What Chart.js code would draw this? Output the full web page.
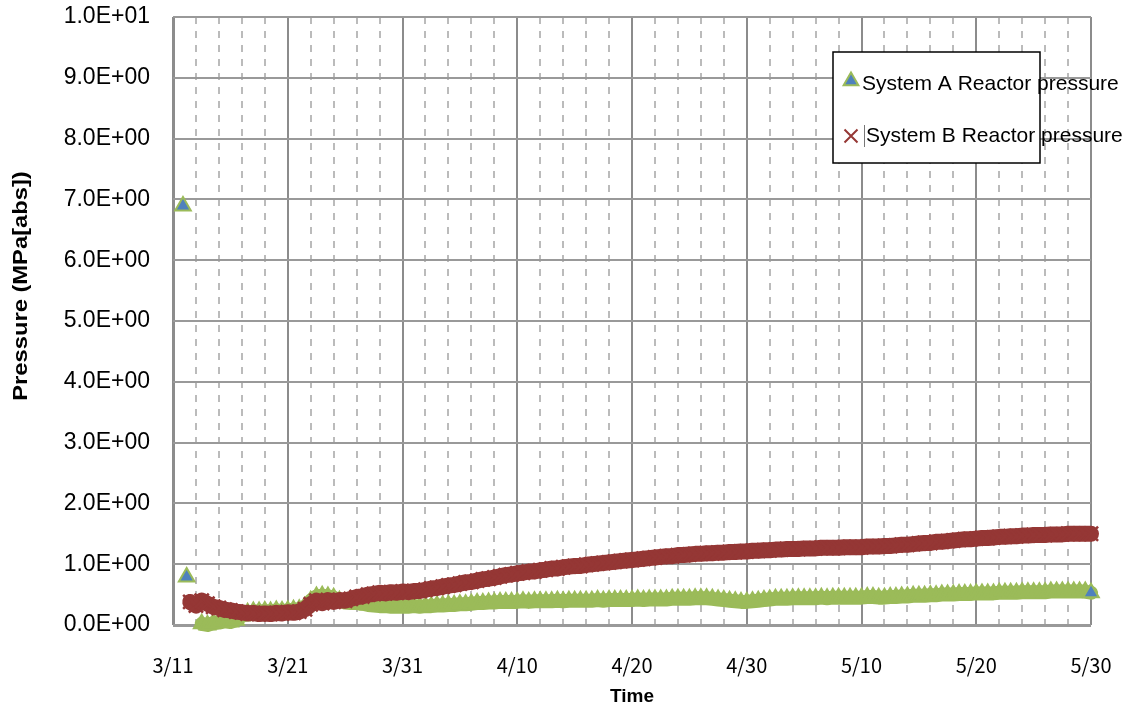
<!DOCTYPE html>
<html><head><meta charset="utf-8">
<script src="https://cdn.jsdelivr.net/npm/chart.js@4"></script>
<style>html,body{margin:0;padding:0;background:#fff;}#wrap{width:1132px;height:713px;}</style>
</head><body><div id="wrap"><canvas id="c" width="1132" height="713"></canvas></div>
<script>
// ---- data ----
const xTickLabels = ['3/11','3/21','3/31','4/10','4/20','4/30','5/10','5/20','5/30']; // days 0,10,...,80 after 3/11
const yTickLabels = ['0.0E+00','1.0E+00','2.0E+00','3.0E+00','4.0E+00','5.0E+00','6.0E+00','7.0E+00','8.0E+00','9.0E+00','1.0E+01'];
const seriesNames = ['System A Reactor pressure','System B Reactor pressure'];
const xTitle = 'Time';
const yTitle = 'Pressure (MPa[abs])';

// isolated early System A readings (days after 3/11 00:00, MPa)
const aIsolatedDays = [0.87, 1.19];
const aIsolatedValues = [6.89, 0.79];

// regularly sampled readings, every half day
const sampleStepDays = 0.5;
const aBandStartDay = 2.5;
const bBandStartDay = 1.5;

const pressureA = [
 0.02,0.00,0.03,0.04,0.06,0.05,0.08,0.15,0.20,0.22,
 0.22,0.23,0.22,0.24,0.23,0.24,0.25,0.26,0.30,0.40,
 0.47,0.48,0.47,0.45,0.40,0.37,0.36,0.36,0.35,0.33,
 0.32,0.31,0.31,0.30,0.30,0.30,0.30,0.31,0.30,0.31,
 0.31,0.32,0.32,0.33,0.33,0.34,0.34,0.35,0.36,0.36,
 0.37,0.37,0.38,0.38,0.38,0.38,0.39,0.38,0.39,0.39,
 0.39,0.39,0.40,0.39,0.40,0.40,0.40,0.40,0.40,0.41,
 0.40,0.41,0.41,0.41,0.41,0.41,0.42,0.41,0.42,0.42,
 0.42,0.42,0.43,0.43,0.43,0.43,0.44,0.44,0.44,0.43,
 0.42,0.41,0.40,0.39,0.38,0.38,0.39,0.40,0.41,0.42,
 0.43,0.43,0.43,0.44,0.44,0.44,0.44,0.44,0.45,0.44,
 0.45,0.45,0.45,0.45,0.45,0.45,0.46,0.46,0.45,0.45,
 0.46,0.46,0.47,0.47,0.48,0.48,0.48,0.49,0.49,0.50,
 0.50,0.50,0.51,0.51,0.51,0.52,0.52,0.52,0.52,0.53,
 0.53,0.53,0.53,0.54,0.54,0.54,0.54,0.54,0.55,0.55,
 0.55,0.55,0.55,0.55,0.55,0.53
];

const pressureB = [
 0.38,0.32,0.40,0.35,0.30,0.28,0.25,0.24,0.22,0.21,
 0.19,0.20,0.18,0.19,0.18,0.20,0.19,0.21,0.20,0.22,
 0.26,0.34,0.40,0.36,0.41,0.38,0.41,0.40,0.43,0.46,
 0.47,0.50,0.51,0.53,0.52,0.54,0.53,0.55,0.54,0.56,
 0.56,0.58,0.60,0.61,0.63,0.65,0.66,0.68,0.70,0.71,
 0.73,0.75,0.76,0.78,0.80,0.82,0.83,0.85,0.86,0.88,
 0.88,0.90,0.91,0.93,0.93,0.95,0.96,0.97,0.97,0.99,
 1.00,1.01,1.02,1.03,1.04,1.05,1.06,1.07,1.08,1.09,
 1.10,1.11,1.12,1.13,1.13,1.15,1.15,1.16,1.17,1.17,
 1.18,1.18,1.19,1.19,1.20,1.20,1.21,1.21,1.22,1.22,
 1.23,1.23,1.24,1.24,1.25,1.25,1.25,1.26,1.26,1.26,
 1.27,1.27,1.27,1.27,1.28,1.28,1.28,1.28,1.29,1.29,
 1.29,1.30,1.30,1.31,1.32,1.32,1.33,1.34,1.35,1.35,
 1.37,1.37,1.38,1.39,1.40,1.41,1.41,1.42,1.43,1.43,
 1.44,1.45,1.45,1.46,1.46,1.47,1.47,1.48,1.48,1.48,
 1.49,1.49,1.49,1.50,1.50,1.50,1.50,1.50
];

// ---- build ----
const dataA = aIsolatedDays.map((d,i)=>({x:d,y:aIsolatedValues[i]}))
  .concat(pressureA.map((v,i)=>({x:aBandStartDay+i*sampleStepDays,y:v})));
const dataB = pressureB.map((v,i)=>({x:bBandStartDay+i*sampleStepDays,y:v}));
const nIso = aIsolatedDays.length;
const lastA = dataA.length-1;

const GREEN='#9BBB59', BLUE='#4F81BD', RED='#953735';

const overlay = {
  id:'overlay',
  afterDraw(chart){
    const ctx = chart.ctx, a = chart.chartArea;
    ctx.save();
    // axis titles
    ctx.fillStyle='#000';
    ctx.font='bold 19px "Liberation Sans", Arial, sans-serif';
    ctx.textAlign='center'; ctx.textBaseline='middle';
    ctx.fillText(xTitle, (a.left+a.right)/2, 697);
    ctx.save();
    ctx.translate(21, 286);
    ctx.rotate(-Math.PI/2);
    ctx.scale(1.13, 1);
    ctx.font='bold 21px "Liberation Sans", Arial, sans-serif';
    ctx.fillText(yTitle, 0, 0);
    ctx.restore();
    // legend box
    const bx=833, by=52, bw=207, bh=111;
    ctx.fillStyle='#fff'; ctx.fillRect(bx,by,bw,bh);
    ctx.strokeStyle='#000'; ctx.lineWidth=1.5; ctx.strokeRect(bx,by,bw,bh);
    // marker A
    const r=8.5, mx=851, myA=81;
    ctx.beginPath();
    for(let k=0;k<3;k++){const ang=k*2*Math.PI/3; const px=mx+Math.sin(ang)*r, py=myA-Math.cos(ang)*r; k?ctx.lineTo(px,py):ctx.moveTo(px,py);}
    ctx.closePath(); ctx.fillStyle=BLUE; ctx.fill(); ctx.strokeStyle=GREEN; ctx.lineWidth=2; ctx.stroke();
    // marker B
    const myB=136, d=6.5;
    ctx.beginPath(); ctx.moveTo(mx-d,myB-d); ctx.lineTo(mx+d,myB+d); ctx.moveTo(mx+d,myB-d); ctx.lineTo(mx-d,myB+d);
    ctx.strokeStyle=RED; ctx.lineWidth=2; ctx.stroke();
    // texts
    ctx.fillStyle='#000'; ctx.textAlign='left'; ctx.textBaseline='middle';
    ctx.font='21px "Liberation Sans", Arial, sans-serif';
    ctx.fillText(seriesNames[0], 862, 84);
    ctx.fillText(seriesNames[1], 866, 136);
    ctx.strokeStyle='#777'; ctx.lineWidth=1;
    ctx.beginPath(); ctx.moveTo(864.5,125); ctx.lineTo(864.5,147); ctx.stroke();
    ctx.restore();
  }
};

const isMajorX = c => c.tick && Math.round(c.tick.value) % 10 === 0;

new Chart(document.getElementById('c'), {
  type:'scatter',
  data:{datasets:[
    {label:seriesNames[0], data:dataA, order:1, showLine:true,
     borderColor:GREEN, borderWidth:14, borderJoinStyle:'round', borderCapStyle:'round',
     segment:{borderColor: c => c.p0DataIndex < nIso ? 'rgba(0,0,0,0)' : GREEN},
     pointStyle:'triangle', pointRadius:9, pointBorderWidth:2, pointBorderColor:GREEN,
     pointBackgroundColor: c => (c.dataIndex < nIso || c.dataIndex === lastA) ? BLUE : GREEN,
     clip:false},
    {label:seriesNames[1], data:dataB, order:0, showLine:true,
     borderColor:RED, borderWidth:16, borderJoinStyle:'round', borderCapStyle:'round',
     pointStyle:'crossRot', pointRadius:10, pointBorderWidth:2.5, pointBorderColor:RED,
     pointBackgroundColor:RED, clip:false}
  ]},
  options:{
    responsive:false, animation:false, events:[],
    layout:{padding:{left:0, top:17, right:41, bottom:0}},
    plugins:{legend:{display:false}, tooltip:{enabled:false}},
    scales:{
      x:{type:'linear', min:0, max:80,
         afterFit: s => { s.height = 88; s.paddingLeft = 0; s.paddingRight = 0; },
         ticks:{stepSize:2, autoSkip:false, maxRotation:0, padding:28, color:'#000',
                font:{family:'"Noto Sans CJK JP", sans-serif', size:20},
                callback: v => Math.round(v) % 10 === 0 ? xTickLabels[Math.round(v)/10] : ''},
         grid:{drawTicks:false,
               color: c => isMajorX(c) ? '#8C8C8C' : '#BBBBBB',
               lineWidth: c => (c.tick && (c.tick.value === 0)) ? 3 : 2},
         border:{display:false, dash: c => (c.tick && !isMajorX(c)) ? [7,7] : []}},
      y:{min:0, max:10,
         afterFit: s => { s.width = 173; s.paddingTop = 0; s.paddingBottom = 0; },
         ticks:{stepSize:1, padding:23, color:'#000',
                font:{family:'"Liberation Sans", Arial, sans-serif', size:23},
                callback: v => yTickLabels[Math.round(v)]},
         grid:{drawTicks:false, color:'#999999',
               lineWidth: c => (c.tick && c.tick.value === 0) ? 3 : 2},
         border:{display:false}}
    }
  },
  plugins:[overlay]
});
</script>
</body></html>
